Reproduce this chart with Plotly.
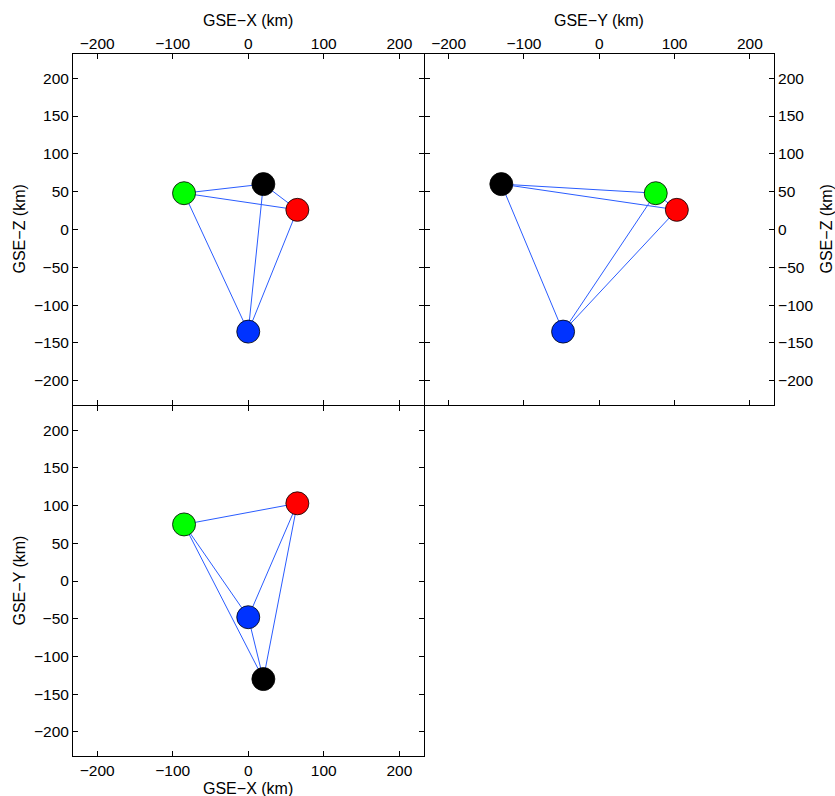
import plotly.graph_objects as go

# spacecraft positions (km): black, red, green, blue
names = ["C1", "C2", "C3", "C4"]
colors = ["#000000", "#ff0000", "#00ff00", "#0033ff"]
gse_x = [20, 65, -85, 0]
gse_y = [-130, 103, 75, -48]
gse_z = [60, 26, 48, -135]

tick50 = [-200, -150, -100, -50, 0, 50, 100, 150, 200]
tick100 = [-200, -100, 0, 100, 200]
rng = [-232, 232]

FONT = "Liberation Sans, Arial, sans-serif"
LINE = "#2a5cff"
FS = 15.5

fig = go.Figure()

pairs = [(i, j) for i in range(4) for j in range(i + 1, 4)]


def add_panel(h, v, xa, ya):
    lx, ly = [], []
    for i, j in pairs:
        lx += [h[i], h[j], None]
        ly += [v[i], v[j], None]
    fig.add_trace(go.Scatter(x=lx, y=ly, mode="lines", xaxis=xa, yaxis=ya,
                             line=dict(color=LINE, width=1), showlegend=False,
                             hoverinfo="skip"))
    fig.add_trace(go.Scatter(x=h, y=v, mode="markers", xaxis=xa, yaxis=ya,
                             marker=dict(size=23, color=colors,
                                         line=dict(color="black", width=0.8)),
                             text=names, showlegend=False))


add_panel(gse_x, gse_z, "x", "y")
add_panel(gse_y, gse_z, "x2", "y2")
add_panel(gse_x, gse_y, "x3", "y3")

common = dict(range=rng, showgrid=False, zeroline=False, showline=True,
              linecolor="black", linewidth=1, ticks="inside", ticklen=5,
              tickcolor="black", mirror="ticks", automargin=False,
              tickfont=dict(family=FONT, size=FS, color="black"))

W, H = 835, 796
ML, MR, MT, MB = 73, 61, 54, 40
PW, PH = W - ML - MR, H - MT - MB
dx, dy = 1.0 / PW, 1.0 / PH

fig.update_layout(
    width=W, height=H,
    margin=dict(l=ML, r=MR, t=MT, b=MB),
    paper_bgcolor="white", plot_bgcolor="white",
    font=dict(family=FONT, size=FS, color="black"),
    xaxis=dict(domain=[0, 0.5], anchor="y", side="top", tickvals=tick100,
               ticklabelstandoff=-2, **common),
    yaxis=dict(domain=[0.5, 1], anchor="x", side="left", tickvals=tick50,
               **common),
    xaxis2=dict(domain=[0.5 + dx, 1], anchor="y2", side="top", tickvals=tick100,
                ticklabelstandoff=-2, **common),
    yaxis2=dict(domain=[0.5, 1], anchor="x2", side="right", tickvals=tick50,
                **common),
    xaxis3=dict(domain=[0, 0.5], anchor="y3", side="bottom", tickvals=tick100,
                **common),
    yaxis3=dict(domain=[0, 0.5 - dy], anchor="x3", side="left", tickvals=tick50,
                **common),
)

tf = dict(family=FONT, size=16, color="black")
ann = [
    dict(text="GSE\u2212X (km)", x=0.25, y=1, yshift=34),
    dict(text="GSE\u2212Y (km)", x=0.75, y=1, yshift=34),
    dict(text="GSE\u2212X (km)", x=0.25, y=0, yshift=-32),
    dict(text="GSE\u2212Z (km)", x=0, y=0.75, xshift=-54, textangle=-90),
    dict(text="GSE\u2212Z (km)", x=1, y=0.75, xshift=52, textangle=-90),
    dict(text="GSE\u2212Y (km)", x=0, y=0.25, xshift=-54, textangle=-90),
]
for a in ann:
    fig.add_annotation(xref="paper", yref="paper", showarrow=False, font=tf,
                       xanchor="center", yanchor="middle", **a)

fig.write_html("out.html")
